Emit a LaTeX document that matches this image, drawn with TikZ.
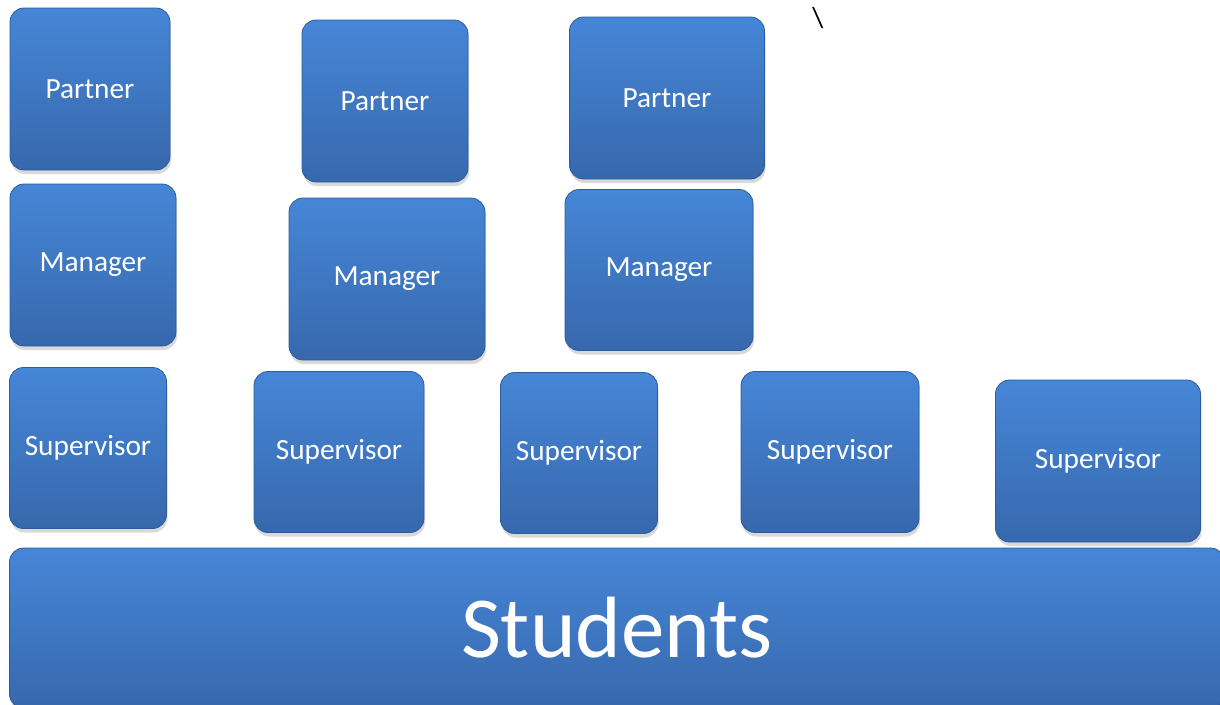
\documentclass[tikz,border=0pt]{standalone}
\usepackage{fontspec}
\setmainfont{Carlito}
\usepackage{xcolor}
\usetikzlibrary{shadows}
\definecolor{boxtop}{HTML}{4686D7}
\definecolor{boxbot}{HTML}{3768AD}
\definecolor{boxedge}{HTML}{2D5C9B}

\begin{document}
\begin{tikzpicture}[x=1pt, y=-1pt,
      role/.style = {shape=rectangle, rounded corners=14pt, draw=boxedge, line width=0.8pt,
        top color=boxtop, bottom color=boxbot, text=white, align=center, inner sep=0pt,
        font=\fontsize{29.3}{34}\selectfont,
        drop shadow={opacity=0.3, shadow xshift=1pt, shadow yshift=-4pt}},
      base/.style = {role, font=\fontsize{87}{104}\selectfont},
      wh/.style 2 args = {minimum width=#1, minimum height=#2}
    ]
      \useasboundingbox (0,0) rectangle (1220,704);

      % partners
      \node[role, wh={160pt}{162pt}] (p1) at (90,89)  {Partner};
      \node[role, wh={166pt}{162pt}] (p2) at (385,101) {Partner};
      \node[role, wh={195pt}{162pt}] (p3) at (667,98)  {Partner};

      % managers
      \node[role, wh={166pt}{162pt}] (m1) at (93,265)  {Manager};
      \node[role, wh={196pt}{162pt}] (m2) at (387,279) {Manager};
      \node[role, wh={188pt}{161pt}] (m3) at (659,270) {Manager};

      % supervisors
      \node[role, wh={157pt}{161pt}] (s1) at (88,448)   {Supervisor};
      \node[role, wh={170pt}{161pt}] (s2) at (339,452)  {Supervisor};
      \node[role, wh={157pt}{161pt}] (s3) at (579,453)  {Supervisor};
      \node[role, wh={178pt}{161pt}] (s4) at (830,452)  {Supervisor};
      \node[role, wh={205pt}{162pt}] (s5) at (1098,461) {Supervisor};

      % students
      \node[base, wh={1215pt}{160pt}] (st) at (617,628) {Students};

      \node[font=\fontsize{29}{34}\selectfont] (slash) at (818,18) {\textbackslash};
\end{tikzpicture}
\end{document}
